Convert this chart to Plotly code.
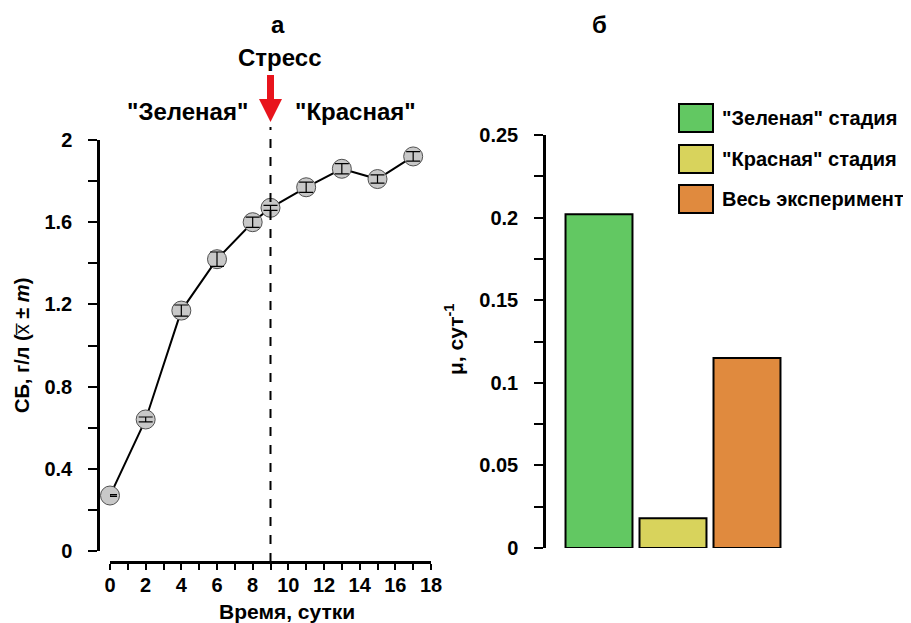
import plotly.graph_objects as go

# ---- data ----
days = [0, 2, 4, 6, 8, 9, 11, 13, 15, 17]
biomass = [0.27, 0.64, 1.17, 1.42, 1.60, 1.67, 1.77, 1.86, 1.81, 1.92]
biomass_err = [0.004, 0.012, 0.027, 0.035, 0.025, 0.012, 0.025, 0.025, 0.02, 0.023]
stress_day = 9

stages = ['"Зеленая" стадия', '"Красная" стадия', 'Весь эксперимент']
mu = [0.202, 0.018, 0.115]
stage_colors = ['#62c862', '#d8d35c', '#e08a3e']

W, H = 911, 623
OFF = 8  # page body margin
def PX(x):
    return (x - OFF) / W
def PY(y):
    return 1 - (y - OFF) / H

FONT = "Liberation Sans, Arial, sans-serif"
def bold(size):
    return dict(family=FONT, size=size, color="black", weight="bold")
tickfont = bold(20)

X0_PX, X1_PX = 110, 431          # pixel span of day 0..18
XMAX = 18
def dx(px):                       # pixel width -> day units
    return px * XMAX / (X1_PX - X0_PX)

fig = go.Figure()

# left panel: growth curve
fig.add_trace(go.Scatter(
    x=days, y=biomass, mode="lines+markers",
    line=dict(color="black", width=2),
    marker=dict(size=19, color="#c8c8c8", line=dict(color="#505050", width=1)),
    cliponaxis=False, showlegend=False, xaxis="x", yaxis="y"))
fig.add_trace(go.Scatter(
    x=days, y=biomass, mode="markers",
    marker=dict(size=2, color="rgba(0,0,0,0)"),
    error_y=dict(type="data", array=biomass_err, color="black", thickness=1.2, width=7),
    cliponaxis=False, showlegend=False, xaxis="x", yaxis="y"))

# right panel: growth rates
fig.add_trace(go.Bar(
    x=stages, y=mu, marker=dict(color=stage_colors, line=dict(color="black", width=2)),
    showlegend=False, xaxis="x2", yaxis="y2", width=0.905))

axis_common = dict(automargin=False, showline=True, linecolor="black", linewidth=2.5,
                   showgrid=False, zeroline=False, ticks="outside", tickwidth=2,
                   tickcolor="black", tickfont=tickfont, tickmode="linear", tick0=0)

fig.update_layout(
    width=W, height=H, margin=dict(l=0, r=0, t=0, b=0, autoexpand=False),
    paper_bgcolor="white", plot_bgcolor="white",
    font=dict(family=FONT, color="black"),
    xaxis=dict(axis_common, domain=[PX(X0_PX), PX(X1_PX)], range=[0, XMAX], anchor="free",
               position=PY(562), dtick=2, ticklen=6, ticklabelstandoff=-2,
               minor=dict(dtick=1, ticks="outside", ticklen=6, tickwidth=2, tickcolor="black")),
    yaxis=dict(axis_common, domain=[PY(551), PY(140)], range=[0, 2], anchor="free",
               position=PX(98), dtick=0.4, ticklen=9, ticklabelstandoff=12,
               minor=dict(dtick=0.2, ticks="outside", ticklen=9, tickwidth=2, tickcolor="black")),
    xaxis2=dict(domain=[PX(562), PX(784)], range=[-0.5, 2.5], visible=False, anchor="y2",
                automargin=False),
    yaxis2=dict(axis_common, domain=[PY(548), PY(135)], range=[0, 0.25], anchor="free",
                position=PX(544), dtick=0.05, ticklen=9, ticklabelstandoff=12,
                minor=dict(dtick=0.025, ticks="outside", ticklen=9, tickwidth=2, tickcolor="black")),
)

# stress line
fig.add_shape(type="line", xref="x", yref="paper", x0=stress_day, x1=stress_day,
              y0=PY(562), y1=PY(127), line=dict(color="black", width=2, dash="dash"))

# red stress arrow (decoration): shaft + head
s, h = dx(3.5), dx(11.5)
xs = stress_day
path = (f"M {xs - s},{PY(75)} L {xs + s},{PY(75)} L {xs + s},{PY(99)} L {xs + h},{PY(99)} "
        f"L {xs},{PY(122)} L {xs - h},{PY(99)} L {xs - s},{PY(99)} Z")
fig.add_shape(type="path", xref="x", yref="paper", path=path,
              fillcolor="#e8141c", line=dict(color="#e8141c", width=0))

ann = []
def add_text(**kw):
    kw.setdefault("showarrow", False)
    kw.setdefault("xanchor", "center")
    kw.setdefault("yanchor", "middle")
    ann.append(kw)

# axis titles
add_text(xref="paper", yref="paper", x=PX(287), y=PY(611), text="Время, сутки", font=bold(21))
add_text(xref="paper", yref="paper", x=PX(22), y=PY(346), textangle=-90,
         text="<b>СБ, г/л (</b>x\u0305<b> ± </b><i><b>m</b></i><b>)</b>",
         font=dict(family=FONT, size=20, color="black"))
add_text(xref="paper", yref="paper", x=PX(454), y=PY(340), textangle=-90,
         text="μ, сут<sup>-1</sup>", font=bold(21))
# panel labels and stress annotation
add_text(xref="x", yref="paper", x=stress_day, y=PY(24), xshift=7, text="а", font=bold(24))
add_text(xref="x", yref="paper", x=stress_day, y=PY(58), xshift=9, text="Стресс", font=bold(24))
add_text(xref="x", yref="paper", x=stress_day, y=PY(111), text='"Зеленая"',
         xanchor="right", xshift=-21, font=bold(24))
add_text(xref="x", yref="paper", x=stress_day, y=PY(111), text='"Красная"',
         xanchor="left", xshift=22, font=bold(24))
add_text(xref="x2", yref="paper", x=0, y=PY(24), text="б", font=bold(24))

# legend (boxes + labels)
leg_y = [118, 159, 199]
for name, col, cy in zip(stages, stage_colors, leg_y):
    fig.add_shape(type="rect", xref="paper", yref="paper", x0=PX(679), x1=PX(713),
                  y0=PY(cy + 14), y1=PY(cy - 14), fillcolor=col, line=dict(color="black", width=2))
    add_text(xref="paper", yref="paper", x=PX(720), y=PY(cy), text=name,
             xanchor="left", font=bold(20))

fig.update_layout(annotations=ann)
fig.write_html("out.html")
